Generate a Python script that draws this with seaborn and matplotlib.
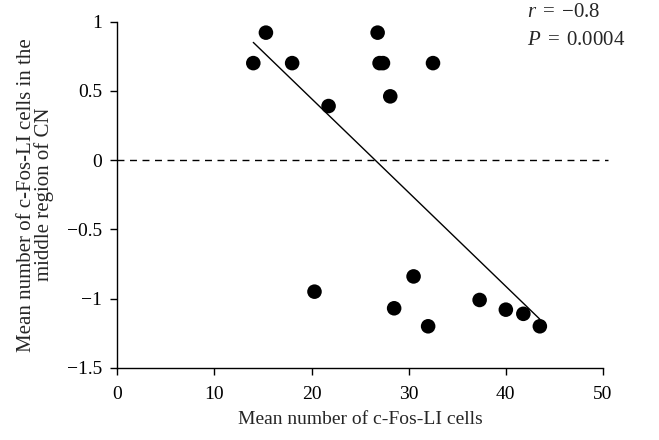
import matplotlib
matplotlib.use("Agg")
import matplotlib.pyplot as plt
import seaborn as sns
import pandas as pd

# Data
fos_cells = [14.0, 15.3, 18.0, 21.75, 26.8, 27.0, 27.35, 28.1, 32.5,
             20.3, 30.5, 28.5, 32.0, 37.3, 40.0, 41.8, 43.5]
middle_cn = [0.70, 0.92, 0.70, 0.39, 0.92, 0.70, 0.70, 0.46, 0.70,
             -0.95, -0.84, -1.07, -1.20, -1.01, -1.08, -1.11, -1.20]
x_ticks = [0, 10, 20, 30, 40, 50]
y_ticks = [-1.5, -1.0, -0.5, 0, 0.5, 1.0]
x_ticklabels = ["0", "10", "20", "30", "40", "50"]
y_ticklabels = ["\u22121.5", "\u22121", "\u22120.5", "0", "0.5", "1"]
stats_lines = [r"$r\;=\;{-}0.8$", r"$P\;=\;0.0004$"]

df = pd.DataFrame({"x": fos_cells, "y": middle_cn})

sns.set_style("ticks")
plt.rcParams["font.family"] = ["Liberation Serif", "DejaVu Serif"]
plt.rcParams["mathtext.fontset"] = "custom"
plt.rcParams["mathtext.rm"] = "Liberation Serif"
plt.rcParams["mathtext.it"] = "Liberation Serif:italic"

fig = plt.figure(figsize=(6.59, 4.40), dpi=100)
ax = fig.add_axes([0.178, 0.164, 0.737, 0.787])

ax.plot([0, 50.5], [0, 0], color="black", lw=1.0, ls=(0, (5, 4)),
        clip_on=False, zorder=1)

sns.regplot(data=df, x="x", y="y", ax=ax, ci=None, truncate=True,
            scatter_kws={"s": 110, "color": "black", "edgecolor": "none",
                         "alpha": 1, "zorder": 3, "clip_on": False},
            line_kws={"color": "black", "lw": 1.0, "zorder": 2})

ax.set_xlim(0, 50)
ax.set_ylim(-1.5, 1.0)
ax.set_xticks(x_ticks)
ax.set_xticklabels(x_ticklabels)
ax.set_yticks(y_ticks)
ax.set_yticklabels(y_ticklabels)
ax.tick_params(direction="out", length=5, width=1.0, labelsize=14,
               colors="black")
ax.tick_params(axis="y", pad=6)
ax.tick_params(axis="x", pad=8)
for s in ["top", "right"]:
    ax.spines[s].set_visible(False)
for s in ["left", "bottom"]:
    ax.spines[s].set_color("black")
    ax.spines[s].set_linewidth(1.0)

ax.set_xlabel("Mean number of c-Fos-LI cells", fontsize=14, labelpad=6)
ax.set_ylabel("Mean number of c-Fos-LI cells in the\nmiddle region of CN",
              fontsize=15, labelpad=9, linespacing=0.92)

fig.text(0.80, 0.972, stats_lines[0], fontsize=15, va="center", ha="left")
fig.text(0.80, 0.908, stats_lines[1], fontsize=15, va="center", ha="left")

fig.savefig("out.png", dpi=100)
